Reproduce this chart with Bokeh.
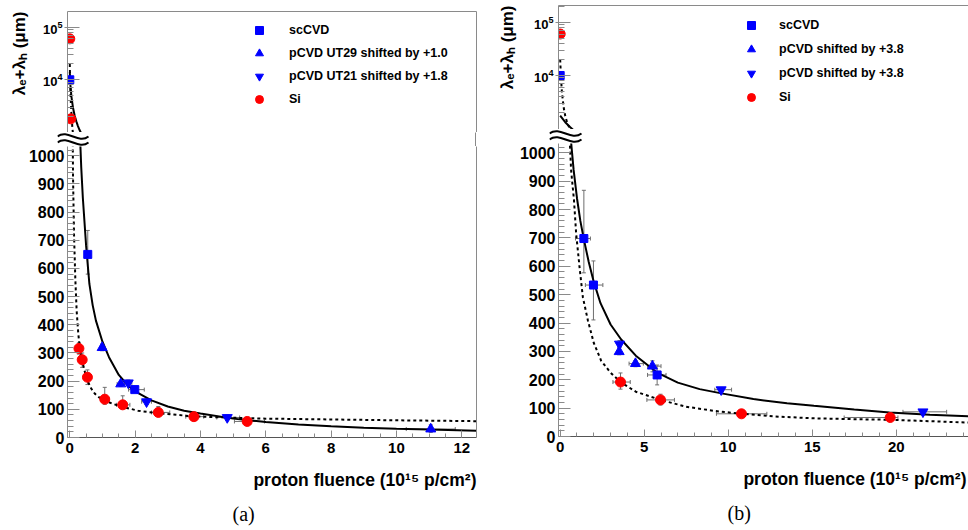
from bokeh.plotting import figure
from bokeh.models import (Range1d, FixedTicker, LinearAxis, Whisker, TeeHead, Title,
                          ColumnDataSource, Legend, LegendItem)
from bokeh.layouts import row, column
from bokeh.embed import file_html
from bokeh.resources import INLINE

# ======================= panel (a) data =======================
a_sc_x   = [0.0, 0.55, 1.99]
a_sc_y   = [1.0e4, 650, 170]
a_sc_ylo = [1.0e4, 580, 160]
a_sc_yhi = [1.0e4, 735, 182]
a_sc_xlo = [0.0, 0.50, 1.80]
a_sc_xhi = [0.0, 0.60, 2.28]

a_up_x   = [0.99, 1.56, 11.05]
a_up_y   = [319, 190, 30]
a_up_ylo = [308, 181, 18]
a_up_yhi = [332, 199, 45]
a_up_xlo = [0.93, 1.45, 10.3]
a_up_xhi = [1.05, 1.67, 11.8]

a_dn_x   = [1.79, 2.35, 4.82]
a_dn_y   = [194, 127, 71]
a_dn_ylo = [184, 117, 62]
a_dn_yhi = [204, 137, 80]
a_dn_xlo = [1.68, 2.20, 4.50]
a_dn_xhi = [1.90, 2.50, 5.20]

a_si_x   = [0.0, 0.03, 0.28, 0.38, 0.54, 1.07, 1.62, 2.71, 3.80, 5.43]
a_si_y   = [6.0e4, 1810, 316, 276, 214, 136, 116, 89, 74, 57]
a_si_ylo = [6.0e4, 1810, 296, 249, 188, 118, 102, 78, 67, 50]
a_si_yhi = [6.0e4, 1810, 336, 300, 240, 178, 148, 110, 82, 64]
a_si_xlo = [0.0, 0.03, 0.25, 0.34, 0.50, 0.95, 1.43, 2.50, 3.55, 5.04]
a_si_xhi = [0.0, 0.03, 0.31, 0.42, 0.58, 1.20, 1.84, 3.06, 4.10, 5.96]

a_fit_dia_x = [0.0, 0.02, 0.05, 0.10, 0.15, 0.20, 0.25, 0.30, 0.35, 0.40, 0.50, 0.60, 0.70,
               0.80, 1.00, 1.20, 1.50, 1.80, 2.00, 2.50, 3.00, 3.50, 4.00, 5.00, 6.00, 7.00,
               8.00, 9.00, 10.0, 11.0, 12.45]
a_fit_dia_y = [13900, 7900, 4800, 2900, 2070, 1620, 1320, 1110, 960, 850, 680, 545, 470,
               415, 340, 285, 222, 182, 164, 132, 110, 95, 85, 67, 55, 46,
               40, 35, 31, 28, 24]
a_fit_si_x = [0.0, 0.01, 0.03, 0.05, 0.08, 0.10, 0.13, 0.17, 0.21, 0.26, 0.32, 0.40, 0.51,
              0.65, 0.77, 0.90, 1.07, 1.30, 1.58, 2.09, 2.71, 3.30, 3.80, 5.00, 6.00, 8.00,
              10.0, 12.45]
a_fit_si_y = [20000, 9000, 4000, 2300, 1200, 920, 720, 560, 450, 369, 305, 262, 210,
              175, 155, 142, 131, 120, 110, 95, 86, 80, 75, 70, 67, 64,
              61, 58]

a_x_ticks = [0, 2, 4, 6, 8, 10, 12]
a_x_minor = [i * 0.5 for i in range(0, 25)]

# ======================= panel (b) data =======================
b_sc_x   = [0.0, 1.41, 1.98, 5.77]
b_sc_y   = [1.0e4, 698, 534, 217]
b_sc_ylo = [1.0e4, 577, 411, 182]
b_sc_yhi = [1.0e4, 868, 619, 252]
b_sc_xlo = [0.0, 0.91, 1.50, 5.20]
b_sc_xhi = [0.0, 1.80, 2.54, 6.30]

b_up_x   = [3.51, 4.48, 5.49]
b_up_y   = [299, 257, 248]
b_up_ylo = [288, 246, 228]
b_up_yhi = [312, 268, 267]
b_up_xlo = [3.45, 4.10, 5.20]
b_up_xhi = [3.57, 4.95, 6.00]

b_dn_x   = [3.53, 9.58, 21.59]
b_dn_y   = [326, 165, 87]
b_dn_ylo = [314, 157, 80]
b_dn_yhi = [338, 173, 94]
b_dn_xlo = [3.47, 9.20, 20.4]
b_dn_xhi = [3.59, 10.2, 23.0]

b_si_x   = [0.0, 3.59, 5.97, 10.79, 19.64]
b_si_y   = [6.0e4, 192, 129, 80, 67]
b_si_ylo = [6.0e4, 167, 111, 73, 62]
b_si_yhi = [6.0e4, 224, 149, 87, 72]
b_si_xlo = [0.0, 3.14, 5.16, 9.30, 16.9]
b_si_xhi = [0.0, 4.17, 6.80, 12.3, 20.1]

b_fit_dia_x = [0.0, 0.15, 0.30, 0.45, 0.60, 0.80, 1.00, 1.20, 1.41, 1.70, 2.00, 2.40, 3.00,
               3.63, 4.50, 5.80, 7.00, 8.30, 9.60, 11.5, 13.5, 15.1, 17.5, 19.6, 22.0, 24.3]
b_fit_dia_y = [1760, 1530, 1330, 1190, 1070, 940, 840, 760, 695, 615, 545, 470, 395,
               342, 285, 224, 190, 167, 152, 132, 117, 108, 95, 85, 77, 71]
b_fit_si_x = [0.0, 0.05, 0.10, 0.20, 0.30, 0.45, 0.65, 0.82, 0.95, 1.15, 1.35, 1.65, 2.00,
              2.44, 3.00, 3.59, 4.50, 5.97, 7.50, 9.19, 10.8, 13.0, 15.1, 17.5, 19.6, 22.0, 24.3]
b_fit_si_y = [20000, 9000, 5000, 2600, 1750, 1200, 939, 834, 716, 598, 491, 409, 330,
              267, 225, 192, 158, 129, 105, 90, 80, 70, 64, 61, 59, 54, 49]

b_x_ticks = [0, 5, 10, 15, 20]
b_x_minor = list(range(0, 25))

y_lin_ticks = list(range(0, 1001, 100))
y_lin_minor = list(range(0, 1041, 20))
y_log_ticks = [1e4, 1e5]
y_log_minor = [m * 10 ** e for e in (2, 3, 4) for m in range(2, 10)] + [2e5]

a_labels = ["scCVD", "pCVD UT29 shifted by +1.0", "pCVD UT21 shifted by +1.8", "Si"]
b_labels = ["scCVD", "pCVD shifted by +3.8", "pCVD shifted by +3.8", "Si"]

y_title = "λₑ+λₕ (μm)"
x_title = "proton fluence (10¹⁵ p/cm²)"

# ======================= styling =======================
FONT = "Liberation Sans"
BLUE = "#0000ff"
RED = "#ff0000"
AX = "#8a8a8a"
ERR = "#6e6e6e"


def style_axis(ax, size):
    ax.axis_line_color = AX
    ax.axis_line_width = 1
    ax.major_tick_line_color = AX
    ax.minor_tick_line_color = AX
    ax.major_label_text_font = FONT
    ax.major_label_text_font_style = "bold"
    ax.major_label_text_font_size = size
    ax.major_label_text_color = "black"


def border_axis(p, side):
    ax = LinearAxis(ticker=FixedTicker(ticks=[]), axis_line_color=AX,
                    major_tick_in=0, major_tick_out=0, minor_tick_in=0, minor_tick_out=0,
                    major_label_text_font_size="0px")
    p.add_layout(ax, side)


def base_fig(xrange, yrange, fw, fh, ml, mr, mt, mb, log=False, xloc="below", yloc="left"):
    p = figure(x_range=xrange, y_range=yrange, y_axis_type="log" if log else "linear",
               frame_width=fw, frame_height=fh, min_border_left=ml, min_border_right=mr,
               min_border_top=mt, min_border_bottom=mb, title=None,
               x_axis_location=xloc, y_axis_location=yloc,
               output_backend="svg", toolbar_location=None)
    p.grid.visible = False
    p.outline_line_color = None
    p.background_fill_color = "white"
    p.border_fill_color = "white"
    return p


def add_errors(p, x, y, xlo, xhi, ylo, yhi):
    v = ColumnDataSource(dict(base=x, lower=ylo, upper=yhi))
    p.add_layout(Whisker(source=v, base="base", lower="lower", upper="upper",
                         dimension="height", line_color=ERR, line_width=1,
                         upper_head=TeeHead(size=4, line_color=ERR, line_width=1),
                         lower_head=TeeHead(size=4, line_color=ERR, line_width=1)))
    h = ColumnDataSource(dict(base=y, lower=xlo, upper=xhi))
    p.add_layout(Whisker(source=h, base="base", lower="lower", upper="upper",
                         dimension="width", line_color=ERR, line_width=1,
                         upper_head=TeeHead(size=4, line_color=ERR, line_width=1),
                         lower_head=TeeHead(size=4, line_color=ERR, line_width=1)))


def draw_content(p, series, fits):
    for fx, fy, dash in fits:
        p.line(fx, fy, line_color="black", line_width=2, line_dash=dash)
    rs = []
    for (x, y, ylo, yhi, xlo, xhi, marker, size, color) in series:
        add_errors(p, x, y, xlo, xhi, ylo, yhi)
        rs.append(p.scatter(x, y, marker=marker, size=size, fill_color=color, line_color=color))
    return rs


def build_panel(series, fits, xr, log_rng, lin_hi, x_ticks, x_minor, labels, caption,
                fw, ml, mr, mt, fh_top, fh_bot, mb, leg_xy, leg_sp, leg_so,
                yt_standoff, xt_offset, cap_offset, wave_w, wave_y):
    xrange = Range1d(*xr)

    # ---------------- upper, logarithmic part ----------------
    top = base_fig(xrange, Range1d(*log_rng), fw, fh_top, ml, mr, mt, 0, log=True, xloc=None)
    border_axis(top, "right")
    border_axis(top, "above")
    ly = top.yaxis[0]
    ly.ticker = FixedTicker(ticks=y_log_ticks, minor_ticks=y_log_minor)
    style_axis(ly, "13px")
    ly.major_tick_in = 12
    ly.major_tick_out = 3
    ly.minor_tick_in = 6
    ly.minor_tick_out = 0
    ly.major_label_standoff = 2
    top.add_layout(Title(text=y_title, align="right", offset=0, standoff=yt_standoff,
                         vertical_align="top", text_font=FONT, text_font_style="bold",
                         text_font_size="17px", text_color="black"), "left")

    # ---------------- axis-break strip (drawn in pixel units) ----------------
    sw = fw + 9
    strip = base_fig(Range1d(0, sw), Range1d(0, 14), sw, 14, ml - 9, mr, 0, 0,
                     xloc=None, yloc=None)
    if "frame_align" in strip.properties():
        strip.frame_align = False
    border_axis(strip, "right")
    strip.bezier(x0=[0, 0], y0=wave_y, x1=[wave_w, wave_w], y1=wave_y,
                 cx0=[wave_w * 0.33] * 2, cy0=[v + 8 for v in wave_y],
                 cx1=[wave_w * 0.67] * 2, cy1=[v - 8 for v in wave_y],
                 line_color="black", line_width=2)

    # ---------------- lower, linear part ----------------
    bot = base_fig(xrange, Range1d(0, lin_hi), fw, fh_bot, ml, mr, 0, mb)
    border_axis(bot, "right")
    yy = bot.yaxis[0]
    yy.ticker = FixedTicker(ticks=y_lin_ticks, minor_ticks=y_lin_minor)
    style_axis(yy, "16px")
    yy.major_tick_in = 12
    yy.major_tick_out = 0
    yy.minor_tick_in = 6
    yy.minor_tick_out = 0
    yy.major_label_standoff = 3

    xx = bot.xaxis[0]
    xx.ticker = FixedTicker(ticks=x_ticks, minor_ticks=x_minor)
    style_axis(xx, "15px")
    xx.axis_line_color = "#555555"
    xx.major_tick_in = 7
    xx.major_tick_out = 0
    xx.minor_tick_in = 4
    xx.minor_tick_out = 0
    xx.major_label_standoff = 5
    bot.add_layout(Title(text=x_title, align="right", offset=xt_offset, standoff=24,
                         vertical_align="bottom", text_font=FONT, text_font_style="bold",
                         text_font_size="17.5px", text_color="black"), "below")
    bot.add_layout(Title(text=caption, align="left", offset=cap_offset, standoff=-2,
                         vertical_align="bottom", text_font="Liberation Serif",
                         text_font_style="normal", text_font_size="20px",
                         text_color="black"), "below")

    rs_top = draw_content(top, series, fits)
    draw_content(bot, series, fits)

    items = [LegendItem(label=lab, renderers=[r]) for lab, r in zip(labels, rs_top)]
    leg = Legend(items=items, location=leg_xy, border_line_color=None,
                 background_fill_alpha=0, padding=0, margin=0, spacing=leg_sp,
                 glyph_width=20, glyph_height=20, label_height=20, label_standoff=leg_so,
                 label_text_font=FONT, label_text_font_style="bold",
                 label_text_font_size="12.5px", label_text_color="black")
    top.add_layout(leg)
    return column(top, strip, bot, spacing=0)


series_a = [
    (a_sc_x, a_sc_y, a_sc_ylo, a_sc_yhi, a_sc_xlo, a_sc_xhi, "square", 8, BLUE),
    (a_up_x, a_up_y, a_up_ylo, a_up_yhi, a_up_xlo, a_up_xhi, "triangle", 10, BLUE),
    (a_dn_x, a_dn_y, a_dn_ylo, a_dn_yhi, a_dn_xlo, a_dn_xhi, "inverted_triangle", 10, BLUE),
    (a_si_x, a_si_y, a_si_ylo, a_si_yhi, a_si_xlo, a_si_xhi, "circle", 10, RED),
]
fits_a = [(a_fit_dia_x, a_fit_dia_y, "solid"), (a_fit_si_x, a_fit_si_y, "3 3")]

series_b = [
    (b_sc_x, b_sc_y, b_sc_ylo, b_sc_yhi, b_sc_xlo, b_sc_xhi, "square", 8, BLUE),
    (b_up_x, b_up_y, b_up_ylo, b_up_yhi, b_up_xlo, b_up_xhi, "triangle", 10, BLUE),
    (b_dn_x, b_dn_y, b_dn_ylo, b_dn_yhi, b_dn_xlo, b_dn_xhi, "inverted_triangle", 10, BLUE),
    (b_si_x, b_si_y, b_si_ylo, b_si_yhi, b_si_xlo, b_si_xhi, "circle", 10, RED),
]
fits_b = [(b_fit_dia_x, b_fit_dia_y, "solid"), (b_fit_si_x, b_fit_si_y, "3 3")]

panel_a = build_panel(series_a, fits_a, (-0.07, 12.45), (10 ** 2.998, 10 ** 5.298), 1033,
                      a_x_ticks, a_x_minor, a_labels, "(a)",
                      fw=409, ml=66, mr=9, mt=11, fh_top=121, fh_bot=291, mb=93,
                      leg_xy=(182, 23), leg_sp=3, leg_so=20,
                      yt_standoff=18, xt_offset=0, cap_offset=165,
                      wave_w=31, wave_y=[10.0, 4.0])
panel_b = build_panel(series_b, fits_b, (-0.1, 24.3), (10 ** 2.987, 10 ** 5.313), 1033,
                      b_x_ticks, b_x_minor, b_labels, "(b)",
                      fw=410, ml=73, mr=1, mt=5, fh_top=124, fh_bot=293, mb=94,
                      leg_xy=(183, 22), leg_sp=4, leg_so=18,
                      yt_standoff=24, xt_offset=2, cap_offset=169,
                      wave_w=32, wave_y=[10.0, 4.0])

layout = row(panel_a, panel_b, spacing=0)
open("out.html", "w").write(file_html(layout, INLINE))
